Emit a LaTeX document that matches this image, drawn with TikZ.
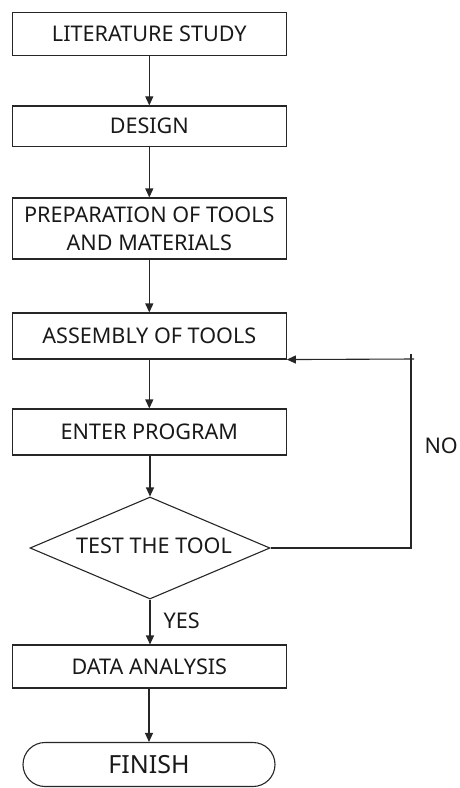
\documentclass[tikz,border=0pt]{standalone}
\usepackage{fontspec}
\setmainfont{Noto Sans}
\usetikzlibrary{arrows.meta,shapes.geometric,shapes.misc}
\begin{document}
\begin{tikzpicture}[x=1pt,y=-1pt,
  line width=1.1pt, draw=black!85, text=black!90,
  every node/.style={font=\fontsize{21.6}{28}\selectfont},
  stepbox/.style={draw, rectangle, minimum width=274pt, inner sep=0pt, align=center},
  decision/.style={draw, diamond, minimum width=240pt, minimum height=102pt, inner sep=0pt},
  terminal/.style={draw, rounded rectangle, minimum width=252pt, minimum height=44pt, inner sep=0pt, font=\fontsize{25}{28}\selectfont},
  label/.style={inner sep=0pt, anchor=west},
  flow/.style={-{Triangle[length=9pt,width=8pt]}}]
\useasboundingbox (0,0) rectangle (460,788);
\node[stepbox, minimum height=43.4pt] (lit) at (149.3,34) {LITERATURE STUDY};
\node[stepbox, minimum height=40.5pt] (des) at (149.3,126.2) {DESIGN};
\node[stepbox, minimum height=61pt] (prep) at (149.3,228.5) {PREPARATION OF TOOLS\\AND MATERIALS};
\node[stepbox, minimum height=46pt] (asm) at (149.3,336) {ASSEMBLY OF TOOLS};
\node[stepbox, minimum height=46pt] (ent) at (149.3,432) {ENTER PROGRAM};
\node[decision] (test) at (150,548) {};
\node at (154,546) {TEST THE TOOL};
\node[stepbox, minimum height=43pt] (data) at (149.3,666.5) {DATA ANALYSIS};
\node[terminal] (fin) at (149,764.5) {FINISH};
\node[label] (no) at (424,446) {NO};
\node[label] (yes) at (163,621) {YES};
\coordinate (c1) at (411,354);
\coordinate (c2) at (414,359);
\draw[flow] (lit) -- (des);
\draw[flow] (des) -- (prep);
\draw[flow] (prep) -- (asm);
\draw[flow] (asm) -- (ent);
\draw[flow] (ent.south -| test.north) -- (test.north);
\draw[flow] (test.south) -- (test.south |- data.north);
\draw[flow] (data.south -| fin.north) -- (fin.north);
\draw (test.east) -| (c1);
\draw[flow] (c2) -- (asm.south east);
\end{tikzpicture}
\end{document}
